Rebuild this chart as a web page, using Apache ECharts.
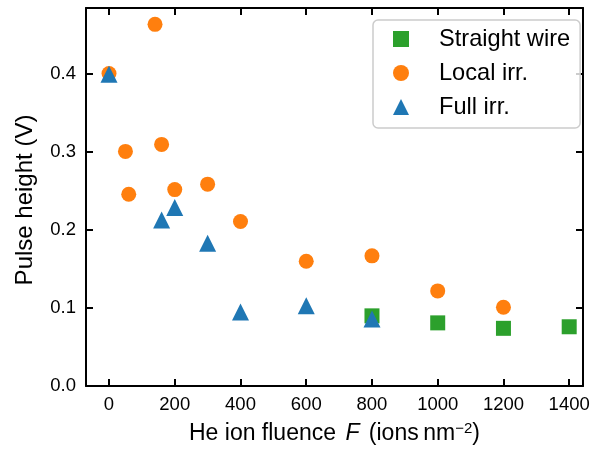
<!DOCTYPE html>
<html><head><meta charset="utf-8">
<script src="https://cdn.jsdelivr.net/npm/echarts@6/dist/echarts.min.js"></script>
<style>html,body{margin:0;padding:0;background:#fff}#c{width:592px;height:451px}</style>
</head><body><div id="c"></div>
<script>
const xTicks = [0, 200, 400, 600, 800, 1000, 1200, 1400];
const yTicks = [0.0, 0.1, 0.2, 0.3, 0.4];
const seriesNames = ['Straight wire', 'Local irr.', 'Full irr.'];
const straightX = [800, 1000, 1200, 1400];
const straightY = [0.090, 0.081, 0.074, 0.076];
const localX = [0, 140, 50, 60, 160, 200, 300, 400, 600, 800, 1000, 1200];
const localY = [0.401, 0.464, 0.301, 0.246, 0.310, 0.252, 0.259, 0.211, 0.160, 0.167, 0.122, 0.101];
const fullX = [0, 160, 200, 300, 400, 600, 800];
const fullY = [0.400, 0.213, 0.229, 0.183, 0.095, 0.103, 0.086];

const FONT = 'Liberation Sans';
const zip = (xs, ys) => xs.map((x, i) => [x, ys[i]]);
const lineSt = { color: '#000', width: 2 };
const tickSt = { inside: true, length: 7, lineStyle: { color: '#000', width: 2 } };

function xAx(pos, withLabel) {
  return {
    type: 'value', min: -70, max: 1442, position: pos,
    axisLine: { show: true, onZero: false, lineStyle: lineSt },
    axisTick: Object.assign({ show: true, customValues: xTicks }, tickSt),
    axisLabel: withLabel ? { show: true, customValues: xTicks, fontFamily: FONT, fontSize: 18.5, color: '#000', margin: 9, formatter: v => String(v) } : { show: false },
    splitLine: { show: false }
  };
}
function yAx(pos, withLabel) {
  return {
    type: 'value', min: 0, max: 0.485, position: pos,
    axisLine: { show: true, onZero: false, lineStyle: lineSt },
    axisTick: Object.assign({ show: true, customValues: yTicks }, tickSt),
    axisLabel: withLabel ? { show: true, customValues: yTicks, fontFamily: FONT, fontSize: 18.5, color: '#000', margin: 10, formatter: v => v.toFixed(1) } : { show: false },
    splitLine: { show: false }
  };
}

const xBottom = xAx('bottom', true);
xBottom.name = 'He ion fluence {i|F} (ions\u2009nm{s|\u22122})';
xBottom.nameLocation = 'middle';
xBottom.nameGap = 35;
xBottom.nameTextStyle = {
  fontFamily: FONT, fontSize: 23, color: '#000', lineHeight: 26,
  rich: {
    i: { fontFamily: FONT, fontSize: 23, fontStyle: 'italic', color: '#000', lineHeight: 26, padding: [0, 3, 0, 3] },
    s: { fontFamily: FONT, fontSize: 15, color: '#000', verticalAlign: 'top', lineHeight: 15 }
  }
};
const yLeft = yAx('left', true);
yLeft.name = 'Pulse height (V)';
yLeft.nameLocation = 'middle';
yLeft.nameGap = 49;
yLeft.nameTextStyle = { fontFamily: FONT, fontSize: 24, color: '#000', padding: [0, 6, 0, 0] };

const chart = echarts.init(document.getElementById('c'), null, { renderer: 'canvas' });
chart.setOption({
  animation: false,
  backgroundColor: '#fff',
  grid: { left: 86, right: 9, top: 8, bottom: 65, containLabel: false, outerBoundsMode: 'none' },
  xAxis: [xBottom, xAx('top', false)],
  yAxis: [yLeft, yAx('right', false)],
  legend: {
    orient: 'vertical', left: 373, top: 20,
    padding: [7, 10, 9, 20],
    itemWidth: 16, itemHeight: 16, itemGap: 10,
    backgroundColor: 'rgba(255,255,255,0.8)',
    borderColor: '#cccccc', borderWidth: 1.5, borderRadius: 5,
    textStyle: { fontFamily: FONT, fontSize: 23.6, color: '#000', lineHeight: 24, padding: [0, 0, 0, 25] },
    data: seriesNames
  },
  series: [
    { name: seriesNames[0], type: 'scatter', symbol: 'rect', symbolSize: 15, itemStyle: { color: '#2ca02c', opacity: 1 }, data: zip(straightX, straightY), z: 2 },
    { name: seriesNames[1], type: 'scatter', symbol: 'circle', symbolSize: 15, itemStyle: { color: '#ff7f0e', opacity: 1 }, data: zip(localX, localY), z: 3 },
    { name: seriesNames[2], type: 'scatter', symbol: 'triangle', symbolSize: 17, itemStyle: { color: '#1f77b4', opacity: 1 }, data: zip(fullX, fullY), z: 4 }
  ]
});
</script></body></html>
